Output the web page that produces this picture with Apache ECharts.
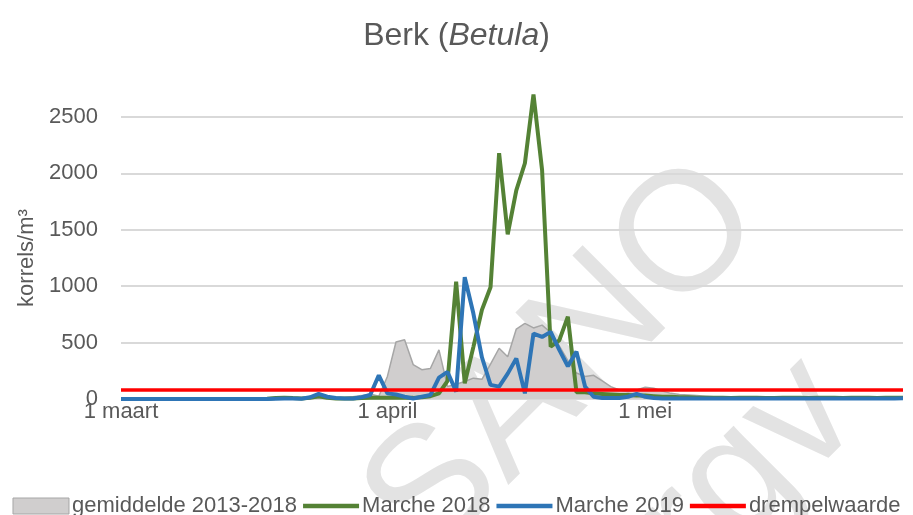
<!DOCTYPE html>
<html>
<head>
<meta charset="utf-8">
<script src="https://cdn.jsdelivr.net/npm/echarts@6/dist/echarts.min.js"></script>
<style>html,body{margin:0;padding:0;background:#fff;}#chart{width:913px;height:515px;}</style>
</head>
<body>
<div id="chart"></div>
<script>
// Months and day counts for the category axis (1 March - 31 May)
const months = ['maart', 'april', 'mei'];
const monthDays = [31, 30, 31];
const tickLabels = ['1 maart', '1 april', '1 mei'];
const categories = [];
months.forEach((m, i) => { for (let d = 1; d <= monthDays[i]; d++) categories.push(d + ' ' + m); });

const seriesNames = ['gemiddelde 2013-2018', 'Marche 2018', 'Marche 2019', 'drempelwaarde'];

// gemiddelde 2013-2018 (area)
const gemiddelde = [
  0,0,0,0,0,0,0,0,0,0, 0,0,0,0,0,0,0,0,2,3, 3,5,5,8,8,10,12,20,30,45, 25,
  200,505,525,305,260,270,435,110,130,155, 185,175,310,450,375,620,670,630,655,590, 470,340,230,200,210,160,110,80,65,80,
  105,95,70,50,40,35,30,25,20,20, 15,15,12,10,10,8,8,6,6,5, 5,4,4,3,3,3,2,2,2,2, 2
];
// Marche 2018
const marche2018 = [
  0,0,0,0,0,0,0,0,0,0, 0,0,0,0,0,0,0,3,8,12, 8,5,10,25,10,5,5,5,8,10, 10,
  10,12,10,10,15,25,50,160,1040,140, 460,790,990,2180,1460,1850,2090,2700,2030,465, 520,730,60,60,50,45,40,35,35,30,
  30,25,20,20,15,15,12,10,10,10, 8,10,12,10,8,8,10,12,10,8, 10,12,10,8,10,12,10,8,10,12, 10
];
// Marche 2019
const marche2019 = [
  0,0,0,0,0,0,0,0,0,0, 0,0,0,0,0,0,0,0,3,5, 5,3,15,45,20,8,5,5,15,35, 210,
  50,40,20,5,20,35,190,240,65,1080, 760,370,125,110,225,360,50,580,550,595, 435,290,420,110,20,8,8,8,20,45,
  20,8,5,5,5,4,4,4,4,4, 4,4,4,4,4,4,4,4,4,4, 4,4,4,4,4,4,4,4,4,4, 6
];
// threshold value
const drempelwaarde = 80;

const yTicks = { min: 0, max: 2500, interval: 500 };
const textColor = '#595959';
const font = 'Liberation Sans';
const lineIcon = 'path://M0,0 L50,0 L50,4 L0,4 Z';

const chart = echarts.init(document.getElementById('chart'), null, { renderer: 'canvas' });
chart.setOption({
  animation: false,
  backgroundColor: '#ffffff',
  title: {
    text: '{n|Berk (}{i|Betula}{n|)}',
    left: 'center', top: 15,
    textStyle: {
      fontWeight: 'normal',
      rich: {
        n: { fontFamily: font, fontSize: 32, color: textColor, fontWeight: 'normal' },
        i: { fontFamily: font, fontSize: 32, color: textColor, fontStyle: 'italic', fontWeight: 'normal' }
      }
    }
  },
  graphic: [
    { type: 'text', x: 565, y: 362, rotation: Math.PI / 4, silent: true, z: 0,
      style: { text: 'SANO', fontFamily: font, fontSize: 170, fill: '#e3e3e3', align: 'center', verticalAlign: 'middle' } },
    { type: 'text', x: 715, y: 505, rotation: Math.PI / 4, silent: true, z: 0,
      style: { text: 'orgv', fontFamily: font, fontSize: 170, fill: '#e3e3e3', align: 'center', verticalAlign: 'middle' } }
  ],
  legend: {
    top: 490, left: 'center',
    itemWidth: 56, itemHeight: 16, itemGap: 6,
    textStyle: { fontFamily: font, fontSize: 22, color: textColor, padding: [0, 0, 0, -2] },
    data: [
      { name: seriesNames[0], icon: 'rect', itemStyle: { color: '#d0cece', borderColor: '#a6a6a6', borderWidth: 1 } },
      { name: seriesNames[1], icon: lineIcon },
      { name: seriesNames[2], icon: lineIcon },
      { name: seriesNames[3], icon: lineIcon }
    ]
  },
  grid: { left: 121, right: 10, top: 117, bottom: 116, containLabel: false },
  xAxis: {
    type: 'category',
    data: categories,
    boundaryGap: false,
    axisLine: { show: false },
    axisTick: { show: false },
    splitLine: { show: false },
    axisLabel: {
      fontFamily: font, fontSize: 22, color: textColor, margin: 2,
      interval: (idx, val) => tickLabels.indexOf(val) >= 0
    }
  },
  yAxis: {
    type: 'value',
    min: yTicks.min, max: yTicks.max, interval: yTicks.interval,
    name: 'korrels/m³', nameLocation: 'middle', nameGap: 80, nameRotate: 90,
    nameTextStyle: { fontFamily: font, fontSize: 22, color: textColor },
    axisLine: { show: false },
    axisTick: { show: false },
    axisLabel: { fontFamily: font, fontSize: 22, color: textColor, margin: 23, formatter: v => String(v) },
    splitLine: { lineStyle: { color: '#d9d9d9', width: 2 } }
  },
  series: [
    {
      name: seriesNames[0], type: 'line', data: gemiddelde, symbol: 'none', clip: false, z: 2,
      itemStyle: { color: '#d0cece' },
      lineStyle: { color: '#a6a6a6', width: 1.5 },
      areaStyle: { color: '#d0cece', opacity: 1 }
    },
    {
      name: seriesNames[1], type: 'line', data: marche2018, symbol: 'none', clip: false, z: 3,
      itemStyle: { color: '#548235' },
      lineStyle: { color: '#548235', width: 4 }
    },
    {
      name: seriesNames[2], type: 'line', data: marche2019, symbol: 'none', clip: false, z: 4,
      itemStyle: { color: '#2e75b6' },
      lineStyle: { color: '#2e75b6', width: 4 }
    },
    {
      name: seriesNames[3], type: 'line', data: [], symbol: 'none', z: 5,
      itemStyle: { color: '#ff0000' },
      lineStyle: { color: '#ff0000', width: 4 },
      markLine: {
        silent: true, symbol: ['none', 'none'], label: { show: false },
        lineStyle: { color: '#ff0000', width: 3.5, type: 'solid' },
        data: [{ yAxis: drempelwaarde }]
      }
    }
  ]
});
</script>
</body>
</html>
